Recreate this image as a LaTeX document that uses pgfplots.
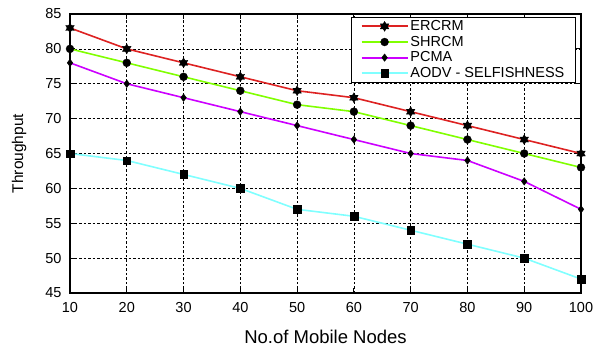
\documentclass[border=0pt]{standalone}
\usepackage{fontspec}
\setmainfont{Liberation Sans}
\usepackage{pgfplots}
\pgfplotsset{compat=1.18}
\definecolor{cred}{HTML}{DD2222}
\definecolor{cgreen}{HTML}{80FF00}
\definecolor{cmag}{HTML}{CC00FF}
\definecolor{ccyan}{HTML}{80FFFF}
\pgfdeclareplotmark{hexstar}{%
 \pgfpathmoveto{\pgfqpointpolar{90}{\pgfplotmarksize}}%
 \pgfpathlineto{\pgfqpointpolar{210}{\pgfplotmarksize}}%
 \pgfpathlineto{\pgfqpointpolar{330}{\pgfplotmarksize}}%
 \pgfpathclose
 \pgfpathmoveto{\pgfqpointpolar{270}{\pgfplotmarksize}}%
 \pgfpathlineto{\pgfqpointpolar{390}{\pgfplotmarksize}}%
 \pgfpathlineto{\pgfqpointpolar{510}{\pgfplotmarksize}}%
 \pgfpathclose
 \pgfusepathqfillstroke}
\begin{document}
\begin{tikzpicture}
\begin{axis}[
  scale only axis,
  width=511pt, height=279pt,
  xmin=10, xmax=100, ymin=45, ymax=85,
  xtick={10,20,...,100}, ytick={45,50,...,85},
  tick align=inside,
  major tick length=5pt,
  axis line style={line width=1.4pt},
  tick style={line width=0.8pt, black},
  grid=major,
  major grid style={dash pattern=on 2.5pt off 2pt, black, line width=0.6pt},
  /pgf/number format/assume math mode=true,
  ticklabel style={font=\fontsize{14.5pt}{17pt}\selectfont},
  xlabel={No.of Mobile Nodes},
  ylabel={Throughput},
  xlabel style={font=\fontsize{18.5pt}{21pt}\selectfont, at={(axis description cs:0.5,0)}, anchor=north, yshift=-34pt},
  ylabel style={font=\fontsize{15.5pt}{18pt}\selectfont, at={(axis description cs:0,0.5)}, anchor=south, yshift=40pt},
  xticklabel style={yshift=-6pt},
  yticklabel style={xshift=-5pt},
  legend style={at={(axis description cs:0.990,0.989)}, anchor=north east,
    draw=black, line width=1pt, fill=white, inner xsep=9pt, inner ysep=1pt,
    row sep=0pt, nodes={inner ysep=2pt},
    font=\fontsize{14.5pt}{16pt}\selectfont, cells={anchor=west}},
  legend image code/.code={%
    \draw[#1,line width=1.8pt,mark=none] (0pt,0pt) -- (46pt,0pt);
    \draw[mark repeat=2,mark phase=2,#1,draw=none] plot coordinates {(0pt,0pt) (23pt,0pt) (46pt,0pt)};},
  every axis plot/.append style={line width=1.6pt},
]
\addplot[cred, mark=hexstar, mark size=5pt, mark options={fill=black, draw=black, line width=0.3pt}]
coordinates {(10,83) (20,80) (30,78) (40,76) (50,74) (60,73) (70,71) (80,69) (90,67) (100,65)};
\addlegendentry{ERCRM}
\addplot[cgreen, mark=*, mark size=4pt, mark options={fill=black, draw=black, line width=0.3pt}]
coordinates {(10,80) (20,78) (30,76) (40,74) (50,72) (60,71) (70,69) (80,67) (90,65) (100,63)};
\addlegendentry{SHRCM}
\addplot[cmag, mark=diamond*, mark size=3.8pt, mark options={fill=black, draw=black, line width=0.3pt}]
coordinates {(10,78) (20,75) (30,73) (40,71) (50,69) (60,67) (70,65) (80,64) (90,61) (100,57)};
\addlegendentry{PCMA}
\addplot[ccyan, mark=square*, mark size=3.8pt, mark options={fill=black, draw=black, line width=0.3pt}]
coordinates {(10,65) (20,64) (30,62) (40,60) (50,57) (60,56) (70,54) (80,52) (90,50) (100,47)};
\addlegendentry{AODV - SELFISHNESS}
\end{axis}
\pgfresetboundingbox
\path ([shift={(-70pt,-55pt)}]current axis.south west) rectangle ([shift={(15pt,14pt)}]current axis.north east);
\end{tikzpicture}
\end{document}
